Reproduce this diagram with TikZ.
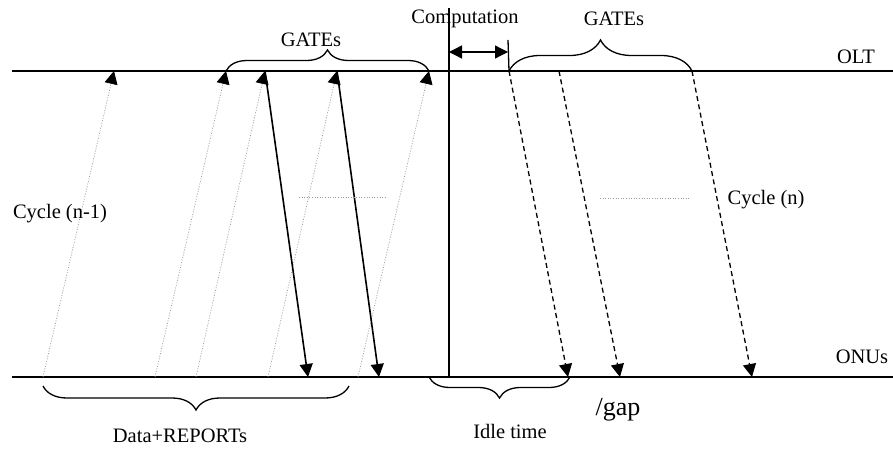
\documentclass[tikz,border=0pt]{standalone}
\usepackage{fontspec}
\setmainfont{Liberation Serif}
\usetikzlibrary{arrows.meta,decorations.pathreplacing}
\begin{document}
\begin{tikzpicture}[x=1pt,y=-1pt,
  font=\fontsize{20.5}{24}\selectfont,
  axisline/.style={line width=1.4pt},
  tip/.style={-{Triangle[length=13pt,width=13pt,black]}},
  uparrow/.style={tip,draw=gray!80,line width=0.7pt,dash pattern=on 1pt off 1.6pt},
  downarrow/.style={tip,line width=1.6pt},
  dasharrow/.style={tip,line width=1.3pt,dash pattern=on 5pt off 3.5pt},
  bracestyle/.style={line width=1.3pt,decorate,decoration={brace,amplitude=#1}},
  dotline/.style={draw=gray!80,line width=0.7pt,dash pattern=on 1pt off 1.6pt},
  lbl/.style={inner sep=0pt}]
\useasboundingbox (0,0) rectangle (893,452);
% lines
\coordinate (oltL) at (12,71); \coordinate (oltR) at (893,71);
\coordinate (onuL) at (12,377); \coordinate (onuR) at (893,377);
\coordinate (vtop) at (449,8); \coordinate (vbot) at (449,377);
\draw[axisline] (oltL) -- (oltR);
\draw[axisline] (onuL) -- (onuR);
\draw[line width=1.3pt] (vtop) -- (vbot);
% upward dotted arrows
\coordinate (u1s) at (43,377);  \coordinate (u1e) at (114,71);
\coordinate (u2s) at (155,377); \coordinate (u2e) at (226,71);
\coordinate (u3s) at (196,377); \coordinate (u3e) at (265,71);
\coordinate (u4s) at (268,377); \coordinate (u4e) at (337,71);
\coordinate (u5s) at (358,377); \coordinate (u5e) at (429,71);
\foreach \i in {1,...,5} \draw[uparrow] (u\i s) -- (u\i e);
% solid downward arrows
\coordinate (d1e) at (308,377); \coordinate (d2e) at (379,377);
\draw[downarrow] (u3e) -- (d1e);
\draw[downarrow] (u4e) -- (d2e);
% dashed downward arrows
\coordinate (g1s) at (509,71); \coordinate (g1e) at (568,377);
\coordinate (g2s) at (559,71); \coordinate (g2e) at (620,377);
\coordinate (g3s) at (692,71); \coordinate (g3e) at (752,377);
\foreach \i in {1,2,3} \draw[dasharrow] (g\i s) -- (g\i e);
% computation arrow
\coordinate (cL) at (449,52); \coordinate (cR) at (508,52);
\coordinate (tkT) at (508,40);
\draw[line width=1.3pt,{Triangle[length=13pt,width=13pt]}-{Triangle[length=13pt,width=13pt]}] (cL) -- (cR);
\draw[line width=1.3pt] (tkT) -- (g1s);
% braces
\draw[bracestyle=21pt] (u2e) -- (u5e);
\draw[bracestyle=31pt] (g1s) -- (g3s);
\coordinate (bdR) at (349,386); \coordinate (bdL) at (43,386);
\draw[bracestyle=24pt] (bdR) -- (bdL);
\coordinate (biR) at (570,377); \coordinate (biL) at (429,377);
\draw[bracestyle=21pt] (biR) -- (biL);
% short dotted lines
\coordinate (h1a) at (299,197); \coordinate (h1b) at (387,197);
\coordinate (h2a) at (600,198); \coordinate (h2b) at (690,198);
\draw[dotline] (h1a) -- (h1b);
\draw[dotline] (h2a) -- (h2b);
% labels
\node[lbl] (gatesL) at (311,40) {GATEs};
\node[lbl] (gatesR) at (614,19) {GATEs};
\node[lbl] (comp) at (465,19) {Computation};
\node[lbl] (olt) at (856,57) {OLT};
\node[lbl] (onus) at (862,357) {ONUs};
\node[lbl] (cyc1) at (60,214) {Cycle (n-1)};
\node[lbl] (cyc2) at (766,200) {Cycle (n)};
\node[lbl] (data) at (180,436) {Data+REPORTs};
\node[lbl] (idle) at (510,431) {Idle time};
\node[lbl,font=\fontsize{26}{30}\selectfont] (gap) at (618,410) {/gap};
\end{tikzpicture}
\end{document}
